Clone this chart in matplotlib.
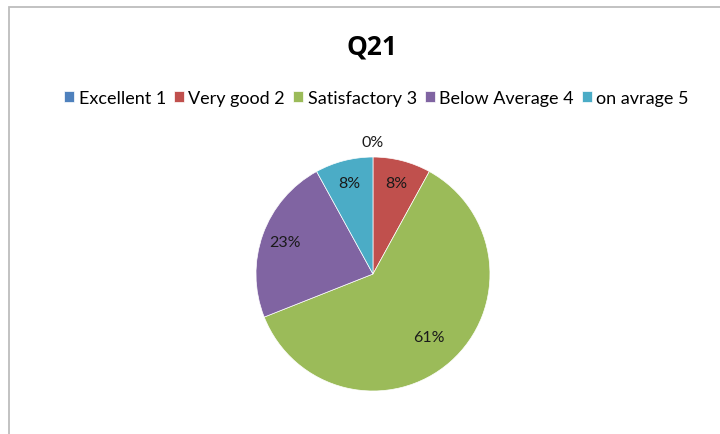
import numpy as np
import matplotlib.pyplot as plt
from matplotlib.patches import Rectangle

plt.rcParams['font.family'] = ['Lato', 'DejaVu Sans']

labels = ["Excellent 1", "Very good 2", "Satisfactory 3", "Below Average 4", "on avrage 5"]
values = [0, 8, 61, 23, 8]
colors = ["#4F81BD", "#C0504D", "#9BBB59", "#8064A2", "#4BACC6"]

fig = plt.figure(figsize=(7.2, 4.35), dpi=100)

# chart border (clipped at right/bottom like the screenshot)
fig.patches.append(Rectangle((9 / 720, -0.1), 1.2, 1 - 8 / 435 + 0.1,
                             transform=fig.transFigure, fill=False,
                             edgecolor="#bdbdbd", lw=1.3))

ax = fig.add_axes([0.3149, 0.0316, 0.40625, 0.6724])
wedges, texts, autotexts = ax.pie(values, colors=colors, startangle=90, counterclock=False,
                                  autopct="%d%%", pctdistance=0.8,
                                  wedgeprops=dict(linewidth=0.5, edgecolor="white"),
                                  textprops=dict(fontsize=11.5, color="#1a1a1a"))
ax.set_xlim(-1.25, 1.25)
ax.set_ylim(-1.25, 1.25)
ax.set_aspect("equal")

# adjust a couple of label positions like the original
autotexts[0].set_position((0, 1.13))
autotexts[2].set_position(np.array(autotexts[2].get_position()) * 0.9)

fig.text(0.517, 1 - 47 / 435, "Q21", ha="center", va="center", fontsize=19,
         fontweight="bold", family=["Open Sans", "DejaVu Sans"])

fig.legend(wedges, labels, loc="center", bbox_to_anchor=(0.523, 1 - 99 / 435), ncol=5,
           frameon=False, fontsize=13, handlelength=0.55, handleheight=0.55,
           handletextpad=0.25, columnspacing=0.45)

fig.savefig("out.png", dpi=100)
